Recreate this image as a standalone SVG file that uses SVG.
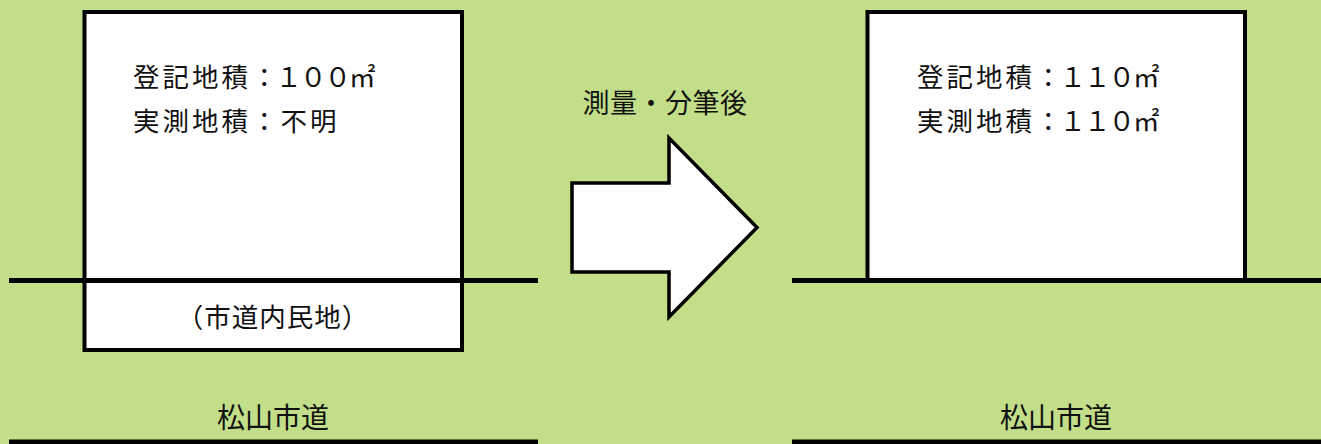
<svg xmlns="http://www.w3.org/2000/svg" width="1321" height="444" viewBox="0 0 1321 444">
<style>
.bg{fill:#C2DE89}
.box{fill:#ffffff;stroke:#000000;stroke-width:4}
.road{stroke:#000000;stroke-width:5;fill:none}
.t{font-family:"Noto Sans CJK JP","Noto Sans",sans-serif;fill:#111111}
.info{font-size:26.5px;letter-spacing:3px}
.num{letter-spacing:-2px}
.arrow{fill:#ffffff;stroke:#000000;stroke-width:3.5;stroke-linejoin:miter}
</style>
<rect class="bg" x="0" y="0" width="1321" height="444"/>
<g id="before">
  <g id="lot-before">
    <rect class="box" x="84.5" y="12" width="377.5" height="338"/>
    <text class="t info" x="133" y="87">登記地積<tspan class="num">：１００</tspan>㎡</text>
    <text class="t info" x="133" y="131">実測地積：不明</text>
  </g>
  <g id="private-in-road">
    <text class="t" x="273" y="327" font-size="26.5" letter-spacing="1" text-anchor="middle">（市道内民地）</text>
  </g>
  <g id="road-left">
    <line class="road" x1="9" y1="280.5" x2="538" y2="280.5"/>
    <line class="road" x1="9" y1="442" x2="538" y2="442"/>
    <text class="t" x="273" y="428" font-size="28" text-anchor="middle">松山市道</text>
  </g>
</g>
<g id="transition">
  <polygon class="arrow" points="572,183 669,183 669,138 757,227.5 669,317 669,272 572,272"/>
  <text class="t" x="665" y="113" font-size="27" letter-spacing="0.5" text-anchor="middle">測量・分筆後</text>
</g>
<g id="after">
  <g id="lot-after">
    <rect class="box" x="867.5" y="12" width="377.5" height="268.5"/>
    <text class="t info" x="917" y="87">登記地積<tspan class="num">：１１０</tspan>㎡</text>
    <text class="t info" x="917" y="131">実測地積<tspan class="num">：１１０</tspan>㎡</text>
  </g>
  <g id="road-right">
    <line class="road" x1="792" y1="280.5" x2="1321" y2="280.5"/>
    <line class="road" x1="792" y1="442" x2="1321" y2="442"/>
    <text class="t" x="1056" y="428" font-size="28" text-anchor="middle">松山市道</text>
  </g>
</g>
</svg>
